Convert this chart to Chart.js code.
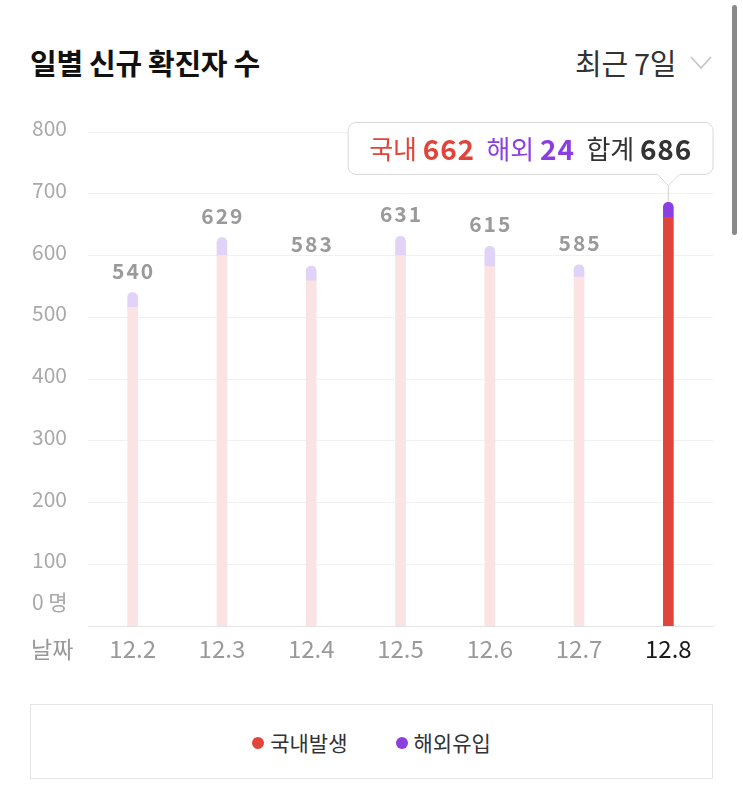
<!DOCTYPE html>
<html>
<head>
<meta charset="utf-8">
<script src="https://cdn.jsdelivr.net/npm/chart.js@4"></script>
<style>
  body { margin: 0; background: #fff; font-family: "Noto Sans CJK KR", "Noto Sans", sans-serif; width: 743px; height: 785px; overflow: hidden; position: relative; }
  .title { position: absolute; left: 30px; top: 41px; font-size: 29px; font-weight: 700; color: #111; letter-spacing: -0.3px; }
  .period { position: absolute; left: 575px; top: 41px; font-size: 29px; color: #333; letter-spacing: -0.3px; }
  .chev { position: absolute; left: 690px; top: 56px; width: 22px; height: 14px; }
  .scroll { position: absolute; left: 732px; top: 5px; width: 5px; height: 230px; border-radius: 3px; background: #8a8a8a; }
  #wrap { position: absolute; left: 0; top: 95px; width: 743px; height: 600px; }
  .legend { position: absolute; left: 30px; top: 704px; width: 681px; height: 73px; border: 1px solid #e4e4e4; display: flex; justify-content: center; align-items: center; gap: 48px; font-size: 21px; color: #333; }
  .legend span.dot { display: inline-block; width: 12px; height: 12px; border-radius: 50%; margin-right: 6px; vertical-align: middle; position: relative; top: -2px; }
</style>
</head>
<body>
<div class="title">일별 신규 확진자 수</div>
<div class="period">최근 7일</div>
<svg class="chev" viewBox="0 0 22 14"><polyline points="1,1 11,12 21,1" fill="none" stroke="#c4c4c4" stroke-width="1.6"/></svg>
<div class="scroll"></div>
<div id="wrap"><canvas id="chart" width="743" height="600"></canvas></div>
<div class="legend">
  <div><span class="dot" style="background:#e0443a"></span>국내발생</div>
  <div><span class="dot" style="background:#8b3fe0"></span>해외유입</div>
</div>
<script>
// 날짜별 데이터
const labels = ['12.2', '12.3', '12.4', '12.5', '12.6', '12.7', '12.8'];
const domestic = [516, 600, 559, 600, 582, 565, 662];
const overseas = [24, 29, 24, 31, 33, 20, 24];
const yTicks = [0, 100, 200, 300, 400, 500, 600, 700, 800];
const activeIndex = 6;

const FONT = '"Noto Sans CJK KR", "Noto Sans", sans-serif';
const RED = '#e0443a', RED_DIM = '#fbe3e3';
const PURPLE = '#8b3fe0', PURPLE_DIM = '#e1d3f8';

const totals = labels.map((_, i) => domestic[i] + overseas[i]);

// y축 라벨 + "날짜" 직접 그리기
const axisLabelPlugin = {
  id: 'axisLabels',
  afterDraw(chart) {
    const ctx = chart.ctx;
    const y = chart.scales.y;
    ctx.save();
    ctx.font = '21px ' + FONT;
    ctx.fillStyle = '#a9a9a9';
    ctx.textAlign = 'left';
    ctx.textBaseline = 'middle';
    yTicks.forEach(v => {
      const py = y.getPixelForValue(v);
      if (v === 0) ctx.fillText('0 명', 32, py - 24);
      else ctx.fillText(String(v), 32, py - 4);
    });
    ctx.font = '23px ' + FONT;
    ctx.fillStyle = '#999';
    ctx.fillText('날짜', 31, chart.chartArea.bottom + 23);
    ctx.restore();
  }
};

// 막대 위 합계 숫자
const totalLabelPlugin = {
  id: 'totalLabels',
  afterDatasetsDraw(chart) {
    const ctx = chart.ctx;
    const meta = chart.getDatasetMeta(1);
    ctx.save();
    ctx.font = 'bold 21px ' + FONT;
    ctx.letterSpacing = '2px';
    ctx.fillStyle = '#9a9a9a';
    ctx.textAlign = 'center';
    ctx.textBaseline = 'middle';
    meta.data.forEach((bar, i) => {
      if (i === activeIndex) return;
      ctx.fillText(String(totals[i]), bar.x + 1, bar.y - 22);
    });
    ctx.restore();
  }
};

// 선택된 날짜 툴팁 (캔버스에 직접)
const tipPlugin = {
  id: 'activeTip',
  afterDraw(chart) {
    const ctx = chart.ctx;
    const bar = chart.getDatasetMeta(1).data[activeIndex];
    const parts = [
      ['국내 ', '26px ' + FONT, RED, 0],
      [String(domestic[activeIndex]), 'bold 28px ' + FONT, RED, 0.8],
      ['  해외 ', '26px ' + FONT, PURPLE, 0],
      [String(overseas[activeIndex]), 'bold 28px ' + FONT, PURPLE, 0.8],
      ['  합계 ', '26px ' + FONT, '#333', 0],
      [String(totals[activeIndex]), 'bold 28px ' + FONT, '#333', 0.8]
    ];
    ctx.save();
    let w = 0;
    parts.forEach(p => { ctx.font = p[1]; ctx.letterSpacing = p[3] + 'px'; w += ctx.measureText(p[0]).width; });
    const tipY = bar.y - 17;
    const boxB = tipY - 11, boxH = 52, boxT = boxB - boxH;
    const boxR = chart.chartArea.right, boxL = boxR - w - 42;
    // connector line
    ctx.strokeStyle = '#d0d0d0';
    ctx.lineWidth = 1;
    ctx.beginPath();
    ctx.moveTo(bar.x, tipY);
    ctx.lineTo(bar.x, bar.y - 1);
    ctx.stroke();
    // box + pointer
    const r = 8;
    ctx.beginPath();
    ctx.moveTo(boxL + r, boxT);
    ctx.lineTo(boxR - r, boxT);
    ctx.arcTo(boxR, boxT, boxR, boxT + r, r);
    ctx.lineTo(boxR, boxB - r);
    ctx.arcTo(boxR, boxB, boxR - r, boxB, r);
    ctx.lineTo(bar.x + 11, boxB);
    ctx.lineTo(bar.x, tipY);
    ctx.lineTo(bar.x - 11, boxB);
    ctx.lineTo(boxL + r, boxB);
    ctx.arcTo(boxL, boxB, boxL, boxB - r, r);
    ctx.lineTo(boxL, boxT + r);
    ctx.arcTo(boxL, boxT, boxL + r, boxT, r);
    ctx.closePath();
    ctx.fillStyle = '#fff';
    ctx.fill();
    ctx.strokeStyle = '#d8d8d8';
    ctx.stroke();
    // text
    let x = boxL + 21;
    ctx.textBaseline = 'middle';
    ctx.textAlign = 'left';
    parts.forEach(p => {
      ctx.font = p[1];
      ctx.letterSpacing = p[3] + 'px';
      ctx.fillStyle = p[2];
      ctx.fillText(p[0], x, boxT + boxH / 2 + 1);
      x += ctx.measureText(p[0]).width;
    });
    ctx.restore();
  }
};

new Chart(document.getElementById('chart'), {
  type: 'bar',
  data: {
    labels: labels,
    datasets: [
      {
        label: '국내발생',
        data: domestic,
        backgroundColor: labels.map((_, i) => i === activeIndex ? RED : RED_DIM),
        barThickness: 10,
        borderSkipped: false,
        borderRadius: 0
      },
      {
        label: '해외유입',
        data: overseas,
        backgroundColor: labels.map((_, i) => i === activeIndex ? PURPLE : PURPLE_DIM),
        barThickness: 10,
        borderSkipped: false,
        borderRadius: { topLeft: 5, topRight: 5, bottomLeft: 0, bottomRight: 0 }
      }
    ]
  },
  options: {
    responsive: false,
    animation: false,
    devicePixelRatio: 1,
    layout: { padding: { left: 88, right: 30, top: 37, bottom: 24 } },
    scales: {
      x: {
        stacked: true,
        grid: { display: false, drawTicks: false },
        border: { color: '#e3e3e3', width: 1 },
        ticks: {
          padding: 8,
          font: { family: FONT, size: 24 },
          color: ctx => ctx.index === activeIndex ? '#1a1a1a' : '#9a9a9a'
        }
      },
      y: {
        stacked: true,
        min: 0,
        max: 800,
        ticks: { display: false, stepSize: 100 },
        grid: { color: '#f1f1f1', drawTicks: false },
        border: { display: false }
      }
    },
    plugins: {
      legend: { display: false },
      tooltip: { enabled: false }
    }
  },
  plugins: [axisLabelPlugin, totalLabelPlugin, tipPlugin]
});
</script>
</body>
</html>
